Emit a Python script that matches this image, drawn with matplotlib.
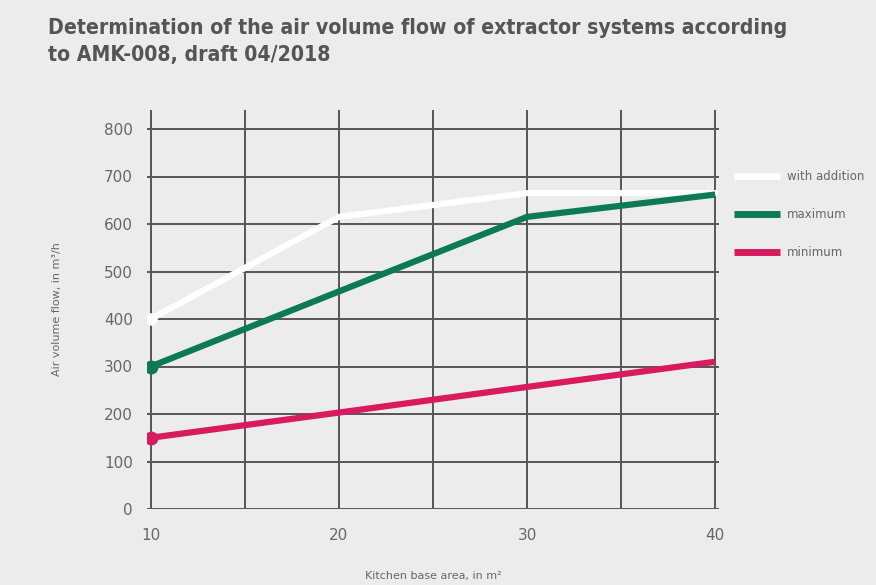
# air volume flow chart, AMK-008 draft

import matplotlib
matplotlib.use("Agg")
import matplotlib.pyplot as plt

area = [10, 20, 30, 40]
with_addition = [400, 615, 665, 665]
maximum = [300, 458, 615, 662]
minimum = [150, 203, 257, 310]

x_ticks = [10, 20, 30, 40]
x_grid = [10, 15, 20, 25, 30, 35, 40]
y_ticks = [0, 100, 200, 300, 400, 500, 600, 700, 800]

bg = "#ececec"
grid_col = "#555555"
text_col = "#666666"
green = "#0b7a55"
pink = "#d81b5f"

fig = plt.figure(figsize=(8.76, 5.85), dpi=100, facecolor=bg)
ax = fig.add_axes([147 / 876, 1 - 509 / 585, 572 / 876, 399 / 585])
ax.set_facecolor(bg)

ax.set_xlim(9.8, 40.2)
ax.set_ylim(0, 840)
for s in ax.spines.values():
    s.set_visible(False)

# grid
for xv in x_grid:
    ax.axvline(xv, color=grid_col, lw=1.4, zorder=1)
for yv in y_ticks:
    ax.axhline(yv, color=grid_col, lw=1.4, zorder=1)

ax.plot(area, with_addition, color="white", lw=4.5, solid_capstyle="round",
        solid_joinstyle="round", marker="o", markevery=[0], ms=8, zorder=3,
        label="with addition")
ax.plot(area, maximum, color=green, lw=4.5, solid_capstyle="butt",
        solid_joinstyle="round", marker="o", markevery=[0], ms=9, zorder=4,
        label="maximum")
ax.plot(area, minimum, color=pink, lw=4.5, solid_capstyle="butt",
        solid_joinstyle="round", marker="o", markevery=[0], ms=9, zorder=4,
        label="minimum")

ax.set_xticks(x_ticks)
ax.set_yticks(y_ticks)
ax.tick_params(length=0, labelsize=11, labelcolor=text_col)
ax.tick_params(axis="x", pad=14)
ax.tick_params(axis="y", pad=10)

ax.set_xlabel("Kitchen base area, in m²", fontsize=8, color=text_col, labelpad=20)
ax.set_ylabel("Air volume flow, in m³/h", fontsize=8, color=text_col, labelpad=30)

leg = ax.legend(loc="upper left", bbox_to_anchor=(1.008, 0.877), frameon=False,
                handlelength=3.9, labelspacing=2.15, fontsize=8.5,
                handletextpad=0.55, labelcolor=text_col)
for h in leg.legend_handles:
    h.set_marker("")
    h.set_linewidth(5)
    h.set_solid_capstyle("butt")

fig.text(48 / 876, 1 - 18 / 585,
         "Determination of the air volume flow of extractor systems according\nto AMK-008, draft 04/2018",
         ha="left", va="top", fontsize=15.2, fontweight="bold", color="#555555",
         family="DejaVu Sans", fontstretch="condensed", linespacing=1.45)

plt.savefig("out.png", dpi=100, facecolor=bg)
plt.close()
